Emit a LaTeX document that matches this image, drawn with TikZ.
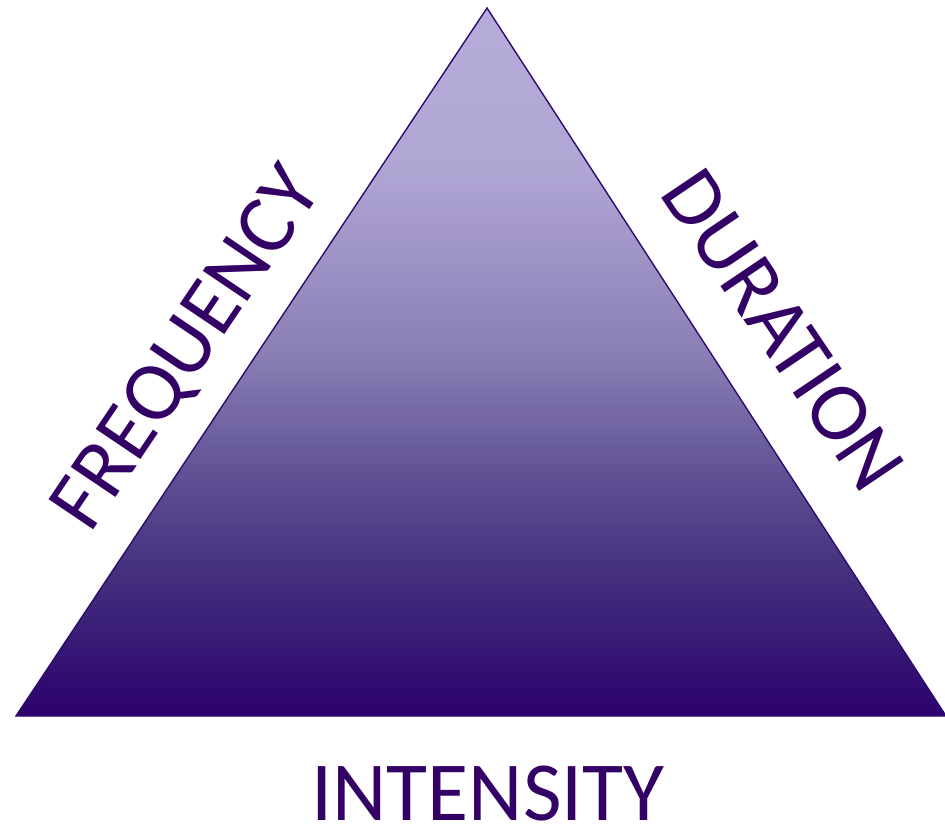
\documentclass[tikz,border=0pt]{standalone}
\usepackage{fontspec}
\setmainfont{Carlito}
\definecolor{labelpurple}{HTML}{330066}
\definecolor{edgepurple}{HTML}{2E0A6E}
\definecolor{toplav}{HTML}{B5ACD9}
\definecolor{lav2}{HTML}{B0A6D4}
\definecolor{mid1}{HTML}{8A7FB5}
\definecolor{mid2}{HTML}{5B4D91}
\definecolor{mid3}{HTML}{45327F}
\definecolor{deep1}{HTML}{300A70}
\definecolor{bottompurple}{HTML}{2C026C}
% vertical fill of the triangle: the path's box maps to 25bp (base) .. 75bp (apex)
\pgfdeclareverticalshading{trishade}{100bp}{%
  color(0bp)=(bottompurple); color(25bp)=(bottompurple);
  color(27bp)=(deep1); color(35.5bp)=(mid3); color(41.2bp)=(mid2);
  color(50.6bp)=(mid1); color(63.6bp)=(lav2); color(75bp)=(toplav);
  color(100bp)=(toplav)}
\begin{document}
\begin{tikzpicture}[x=1pt,y=-1pt,
  label/.style={text=labelpurple, font=\fontsize{84}{84}\selectfont, inner sep=0pt},
  edge/.style={draw=edgepurple, line width=1.4pt, line join=miter}]
\useasboundingbox (0,0) rectangle (945,828);

% corners of the triangle
\coordinate (apex) at (487,8);
\coordinate (bl) at (16,716);
\coordinate (br) at (946,716);
\shade[shading=trishade] (apex) -- (bl) -- (br) -- cycle;
\draw[edge] (apex) -- (bl) -- (br) -- cycle;

% side labels
\node[label, rotate=56] (freq) at (189,350) {FREQUENCY};
\node[label, rotate=-56] (dur) at (783,330) {DURATION};
\node[label, anchor=base] (inten) at (488,820) {INTENSITY};
\end{tikzpicture}
\end{document}
